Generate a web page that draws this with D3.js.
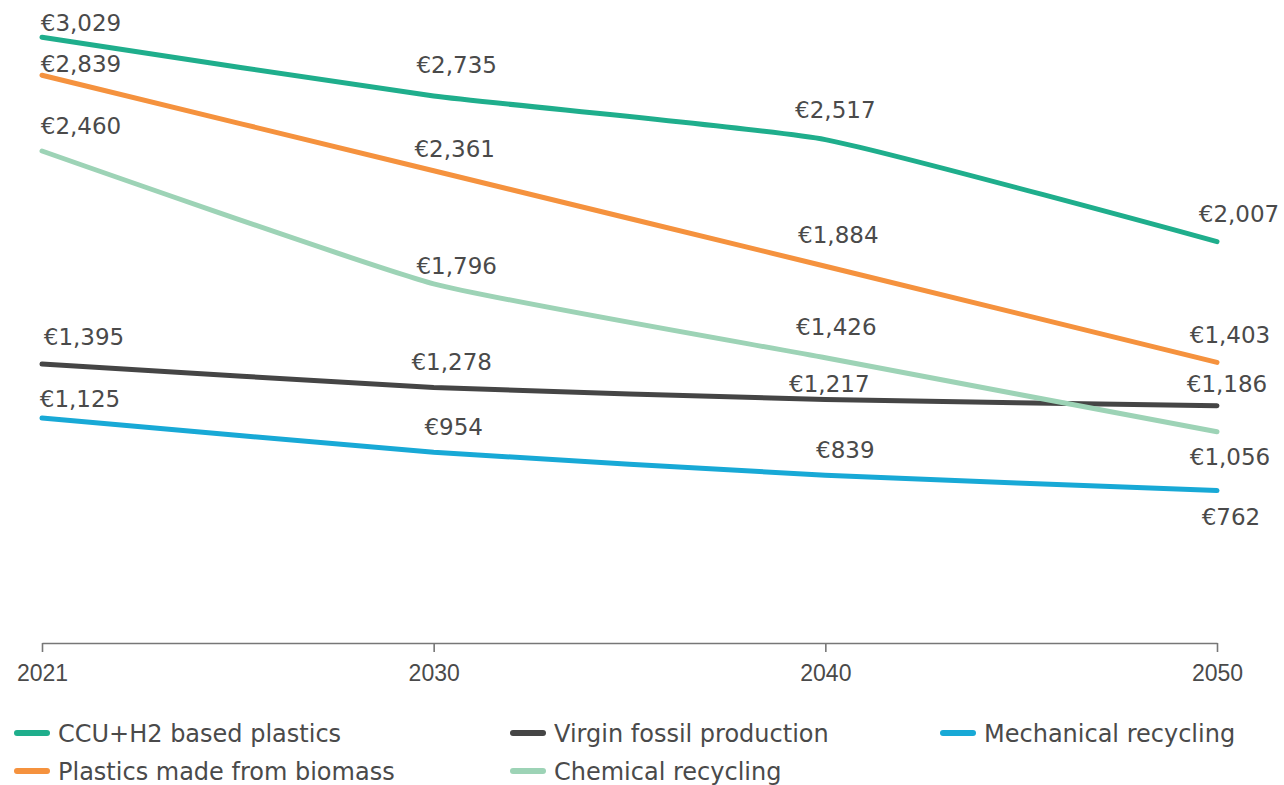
<!DOCTYPE html>
<html>
<head>
<meta charset="utf-8">
<style>
  body { margin: 0; background: #fff; }
  svg { display: block; font-family: 'DejaVu Sans', 'Open Sans', sans-serif; }
  .val { font-size: 23px; fill: #4a4a4a; }
  .tick text { font-size: 23px; fill: #4a4a4a; }
  .legend text { font-size: 24px; fill: #4a4a4a; }
</style>
</head>
<body>
<svg width="1284" height="785"></svg>
<script src="https://d3js.org/d3.v7.min.js"></script>
<script>
// chart data
const years = ["2021", "2030", "2040", "2050"];
const seriesNames = [
  "CCU+H2 based plastics",
  "Plastics made from biomass",
  "Chemical recycling",
  "Virgin fossil production",
  "Mechanical recycling"
];
const ccuValues = [3029, 2735, 2517, 2007];
const biomassValues = [2839, 2361, 1884, 1403];
const chemicalValues = [2460, 1796, 1426, 1056];
const virginValues = [1395, 1278, 1217, 1186];
const mechanicalValues = [1125, 954, 839, 762];

const colors = ["#1fae8c", "#f5923e", "#9dd3b6", "#454545", "#18a9d6"];

// hand placed value labels [dx, dy] from each point, like the original
const labelNudge = [
  [[39, -6], [23, -23], [10, -22], [22, -20]],
  [[39, -3], [21, -14], [13, -23], [13, -19]],
  [[39, -17], [23, -10], [11, -23], [13, 33]],
  [[42, -19], [18, -17], [4, -8], [10, -14]],
  [[38, -11], [20, -17], [20, -17], [14, 34]]
];

const allValues = [ccuValues, biomassValues, chemicalValues, virginValues, mechanicalValues];
const series = seriesNames.map((name, i) => ({
  name: name,
  color: colors[i],
  points: years.map((y, j) => ({ year: y, value: allValues[i][j], nudge: labelNudge[i][j] }))
}));

let svg = d3.select("svg");

let x = d3.scalePoint().domain(years).range([42, 1217]);
let y = d3.scaleLinear().domain([0, 3200]).range([643, 3]);

// x axis
let axis = svg.append("g")
  .attr("transform", "translate(0,643)")
  .call(d3.axisBottom(x).tickSize(9).tickPadding(13).tickSizeOuter(0));
axis.select(".domain").attr("stroke", "#777").attr("stroke-width", 1.6);
axis.selectAll(".tick line").attr("stroke", "#777").attr("stroke-width", 1.6);
axis.selectAll(".tick text").attr("font-family", null).attr("font-size", null);

// draw back to front so the dark line is under the light green where they cross
let order = [3, 4, 2, 1, 0];
let line = d3.line()
  .x(d => x(d.year))
  .y(d => y(d.value))
  .curve(d3.curveCardinal.tension(0.55));

svg.append("g")
  .selectAll("path")
  .data(order.map(i => series[i]))
  .join("path")
  .attr("d", d => line(d.points))
  .attr("fill", "none")
  .attr("stroke", d => d.color)
  .attr("stroke-width", 5)
  .attr("stroke-linecap", "round");

svg.append("g")
  .selectAll("g")
  .data(series)
  .join("g")
  .selectAll("text")
  .data(d => d.points)
  .join("text")
  .attr("class", "val")
  .attr("text-anchor", "middle")
  .attr("x", d => x(d.year) + d.nudge[0])
  .attr("y", d => y(d.value) + d.nudge[1])
  .text(d => "€" + d3.format(",")(d.value));

// legend
const legendOrder = [0, 3, 4, 1, 2];
const legendCols = [17, 513, 943];
const legendRows = [733, 771];
let legend = svg.append("g").attr("class", "legend")
  .selectAll("g")
  .data(legendOrder.map(i => series[i]))
  .join("g")
  .attr("transform", (d, k) => {
    let col = k < 3 ? k : k - 3;
    let row = k < 3 ? 0 : 1;
    return `translate(${legendCols[col]},${legendRows[row]})`;
  });

legend.append("line")
  .attr("x1", 0).attr("x2", 30)
  .attr("stroke", d => d.color)
  .attr("stroke-width", 6)
  .attr("stroke-linecap", "round");

legend.append("text")
  .attr("x", 41)
  .attr("y", 9)
  .text(d => d.name);
</script>
</body>
</html>
